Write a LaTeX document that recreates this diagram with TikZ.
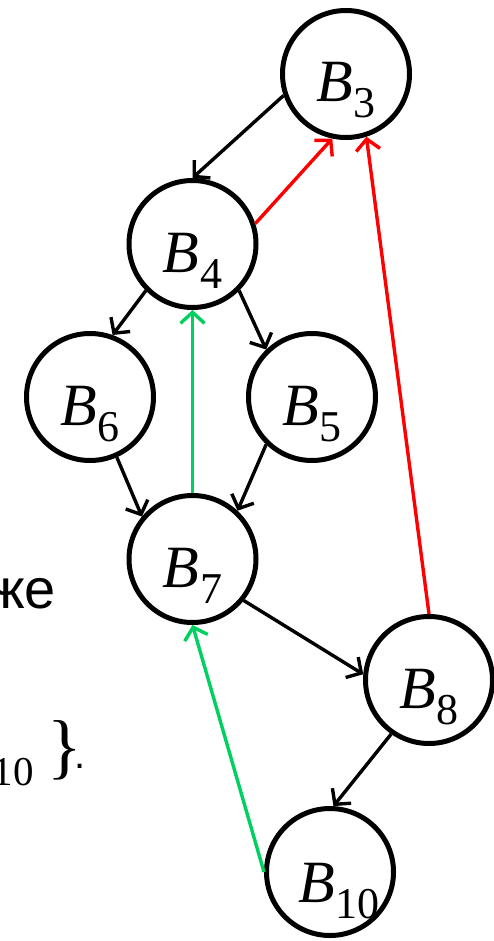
\documentclass[tikz,border=0pt]{standalone}
\usepackage{fontspec}
\setmainfont{Liberation Serif}
\setsansfont{Liberation Sans}
\usetikzlibrary{arrows.meta,calc}
\definecolor{myred}{RGB}{255,0,0}
\definecolor{mygreen}{RGB}{0,208,96}
\tikzset{
  bnode/.style={circle, draw=black, line width=5pt, minimum size=127pt, inner sep=0pt, outer sep=2.5pt},
  blabel/.style={anchor=base west, inner sep=0pt},
  arc edge/.style={line width=3.4pt, -{Straight Barb[length=11pt,width=24pt,line width=3.4pt]}},
  redge/.style={arc edge, draw=myred},
  gedge/.style={arc edge, draw=mygreen},
  ftext/.style={inner sep=0pt},
}
\newcommand{\Blab}[1]{{\fontsize{60}{60}\selectfont\itshape B}\kern1pt{\fontsize{44}{44}\selectfont\raisebox{-16pt}{#1}}}
\begin{document}
\begin{tikzpicture}[x=1pt,y=-1pt]
\useasboundingbox (0,0) rectangle (494,941);
% nodes
\node[bnode] (b3) at (346,74) {};
\node[bnode] (b4) at (192.5,244) {};
\node[bnode] (b6) at (90,397) {};
\node[bnode] (b5) at (312,397) {};
\node[bnode] (b7) at (192.5,559) {};
\node[bnode] (b8) at (429,680) {};
\node[bnode] (b10) at (330,872) {};
% labels
\node[blabel] (l3) at ($(b3)+(-30,28)$) {\Blab{3}};
\node[blabel] (l4) at ($(b4)+(-30,28)$) {\Blab{4}};
\node[blabel] (l6) at ($(b6)+(-30,28)$) {\Blab{6}};
\node[blabel] (l5) at ($(b5)+(-30,28)$) {\Blab{5}};
\node[blabel] (l7) at ($(b7)+(-30,28)$) {\Blab{7}};
\node[blabel] (l8) at ($(b8)+(-30,28)$) {\Blab{8}};
\node[blabel] (l10) at ($(b10)+(-32,30)$) {\Blab{10}};
% edges
\draw[arc edge] (b3.199) -- (b4.90);
\draw[redge] (b4.18) -- (b3.258);
\draw[redge] (b8.90) -- (b3.288);
\draw[arc edge] (b4.225) -- (b6.70);
\draw[arc edge] (b4.315) -- (b5.134);
\draw[arc edge] (b6.294) -- (b7.140);
\draw[arc edge] (b5.226) -- (b7.47);
\draw[gedge] (b7.90) -- (b4.270);
\draw[arc edge] (b7.321) -- (b8.175);
\draw[arc edge] (b8.235) -- (b10.87);
\draw[gedge] (b10.180) -- (b7.270);
% fragments of text at the left edge
\node[ftext, anchor=base east] (zhe) at (56,608) {\sffamily\fontsize{56}{56}\selectfont же};
\node[ftext, anchor=base east] (ten) at (34,785) {\fontsize{41}{41}\selectfont 10};
\node[ftext, anchor=base west] (brace) at (47,770) {\fontsize{72}{72}\selectfont\}};
\node[ftext, anchor=base west] (dot) at (74,768) {\sffamily\fontsize{40}{40}\selectfont .};
\end{tikzpicture}
\end{document}
